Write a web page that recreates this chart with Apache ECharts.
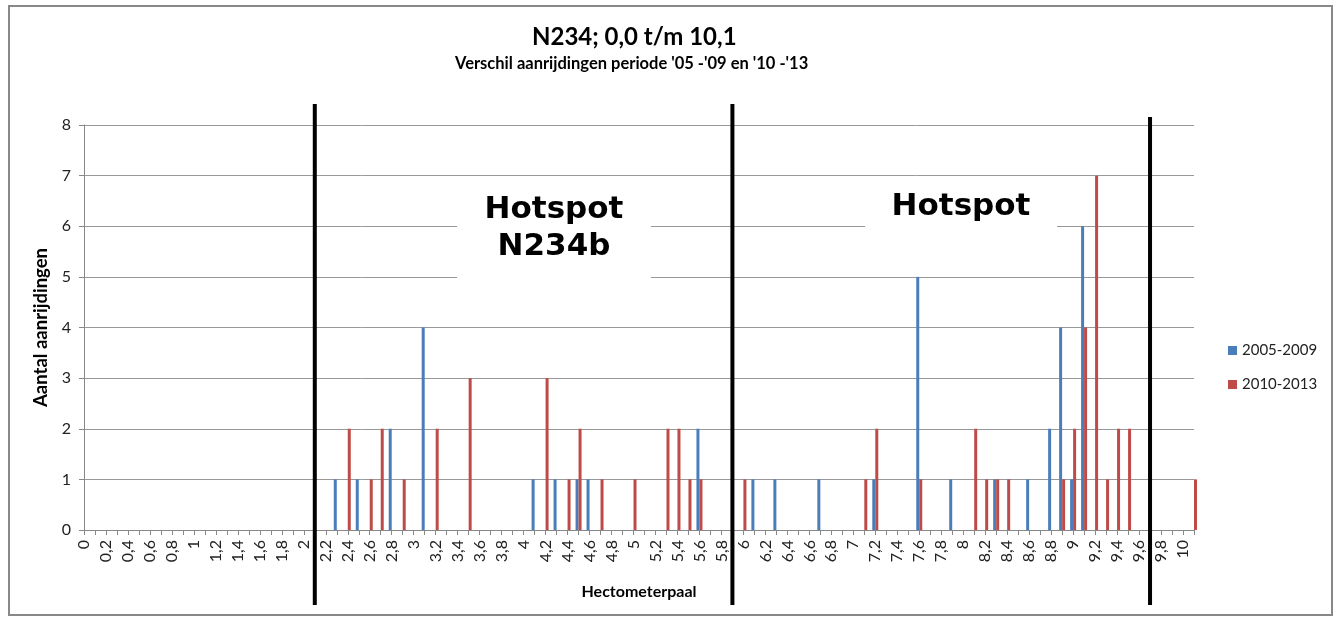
<!DOCTYPE html>
<html>
<head>
<meta charset="utf-8">
<script src="https://cdn.jsdelivr.net/npm/echarts@6/dist/echarts.min.js"></script>
<style>
html,body{margin:0;padding:0;background:#fff;}
#c{width:1338px;height:622px;}
</style>
</head>
<body>
<div id="c"></div>
<script>
const categories = [
'0','0,1','0,2','0,3','0,4','0,5','0,6','0,7','0,8','0,9',
'1','1,1','1,2','1,3','1,4','1,5','1,6','1,7','1,8','1,9',
'2','2,1','2,2','2,3','2,4','2,5','2,6','2,7','2,8','2,9',
'3','3,1','3,2','3,3','3,4','3,5','3,6','3,7','3,8','3,9',
'4','4,1','4,2','4,3','4,4','4,5','4,6','4,7','4,8','4,9',
'5','5,1','5,2','5,3','5,4','5,5','5,6','5,7','5,8','5,9',
'6','6,1','6,2','6,3','6,4','6,5','6,6','6,7','6,8','6,9',
'7','7,1','7,2','7,3','7,4','7,5','7,6','7,7','7,8','7,9',
'8','8,1','8,2','8,3','8,4','8,5','8,6','8,7','8,8','8,9',
'9','9,1','9,2','9,3','9,4','9,5','9,6','9,7','9,8','9,9',
'10','10,1'
];
const series2005_2009 = [
0,0,0,0,0,0,0,0,0,0,
0,0,0,0,0,0,0,0,0,0,
0,0,0,1,0,1,0,0,2,0,
0,4,0,0,0,0,0,0,0,0,
0,1,0,1,0,1,1,0,0,0,
0,0,0,0,0,0,2,0,0,0,
0,1,0,1,0,0,0,1,0,0,
0,0,1,0,0,0,5,0,0,1,
0,0,0,1,0,0,1,0,2,4,
1,6,0,0,0,0,0,0,0,0,
0,0
];
const series2010_2013 = [
0,0,0,0,0,0,0,0,0,0,
0,0,0,0,0,0,0,0,0,0,
0,0,0,0,2,0,1,2,0,1,
0,0,2,0,0,3,0,0,0,0,
0,0,3,0,1,2,0,1,0,0,
1,0,0,2,2,1,1,0,0,0,
1,0,0,0,0,0,0,0,0,0,
0,1,2,0,0,0,1,0,0,0,
0,2,1,1,1,0,0,0,0,1,
2,4,7,1,2,2,0,0,0,0,
0,1
];
const yTicks = [0,1,2,3,4,5,6,7,8];
const hotspotBorders = ['2,1','5,9','9,7'];
const seriesNames = ['2005-2009','2010-2013'];

const FONT = 'Lato, "Noto Sans", sans-serif';
const chart = echarts.init(document.getElementById('c'), null, {renderer:'canvas'});

const option = {
  animation:false,
  backgroundColor:'#fff',
  title:[
    {text:'N234; 0,0 t/m 10,1', left:527, top:20,
     textStyle:{fontFamily:FONT,fontWeight:'bold',fontSize:24,color:'#000'}},
    {text:"Verschil aanrijdingen periode '05 -'09 en '10 -'13", left:450, top:50,
     textStyle:{fontFamily:FONT,fontWeight:'bold',fontSize:16.5,color:'#000'}}
  ],
  legend:{
    orient:'vertical', left:1223, top:338, itemGap:19,
    itemWidth:9, itemHeight:9, icon:'rect',
    textStyle:{fontFamily:FONT,fontSize:15,color:'#222'},
    data:seriesNames
  },
  grid:{left:84,right:144,top:125,bottom:92},
  xAxis:{
    type:'category', data:categories, boundaryGap:false,
    name:'Hectometerpaal', nameLocation:'middle', nameGap:54,
    nameTextStyle:{fontFamily:FONT,fontWeight:'bold',fontSize:16,color:'#000'},
    axisLine:{lineStyle:{color:'#888',width:1}},
    axisTick:{interval:0,length:5,lineStyle:{color:'#888'}},
    axisLabel:{interval:1,rotate:90,margin:10,fontFamily:FONT,fontSize:16,color:'#222'},
    splitLine:{show:false}
  },
  yAxis:{
    type:'value', min:0, max:8, interval:1,
    name:'Aantal aanrijdingen', nameLocation:'middle', nameGap:28, nameRotate:90,
    nameTextStyle:{fontFamily:FONT,fontWeight:'bold',fontSize:18.5,color:'#000'},
    axisLine:{show:true,lineStyle:{color:'#888',width:1}},
    axisTick:{show:true,length:5,lineStyle:{color:'#888'}},
    axisLabel:{margin:13,fontFamily:FONT,fontSize:16,color:'#222',
      formatter:function(v){return yTicks.indexOf(v)>=0?String(v):'';}},
    splitLine:{lineStyle:{color:'#999',width:1}}
  },
  series:[
    {name:seriesNames[0],type:'bar',data:series2005_2009,barWidth:3,barGap:'0%',
     itemStyle:{color:'#4a7ebb'}},
    {name:seriesNames[1],type:'bar',data:series2010_2013,barWidth:3,barGap:'0%',
     itemStyle:{color:'#be4b48'}}
  ]
};
chart.setOption(option);

// annotation overlays
const lineTops = [104,104,117];
const lines = hotspotBorders.map(function(c,i){
  const x = chart.convertToPixel({xAxisIndex:0}, categories.indexOf(c));
  return {type:'line',z:200,shape:{x1:x,y1:lineTops[i],x2:x,y2:605},
          style:{stroke:'#000',lineWidth:4}};
});
chart.setOption({
  graphic:[
    {type:'rect',z:300,shape:{x:9,y:6,width:1323,height:609},
     style:{fill:'none',stroke:'#888',lineWidth:2}},
    {type:'rect',z:150,shape:{x:457,y:177,width:194,height:102},style:{fill:'#fff'}},
    {type:'text',z:160,x:554,y:228,style:{text:'Hotspot\nN234b',align:'center',verticalAlign:'middle',
      font:'bold 31px "DejaVu Sans"',fill:'#000',lineHeight:37}},
    {type:'rect',z:150,shape:{x:865,y:177,width:192,height:51},style:{fill:'#fff'}},
    {type:'text',z:160,x:961,y:207,style:{text:'Hotspot',align:'center',verticalAlign:'middle',
      font:'bold 31px "DejaVu Sans"',fill:'#000'}}
  ].concat(lines)
});
</script>
</body>
</html>
